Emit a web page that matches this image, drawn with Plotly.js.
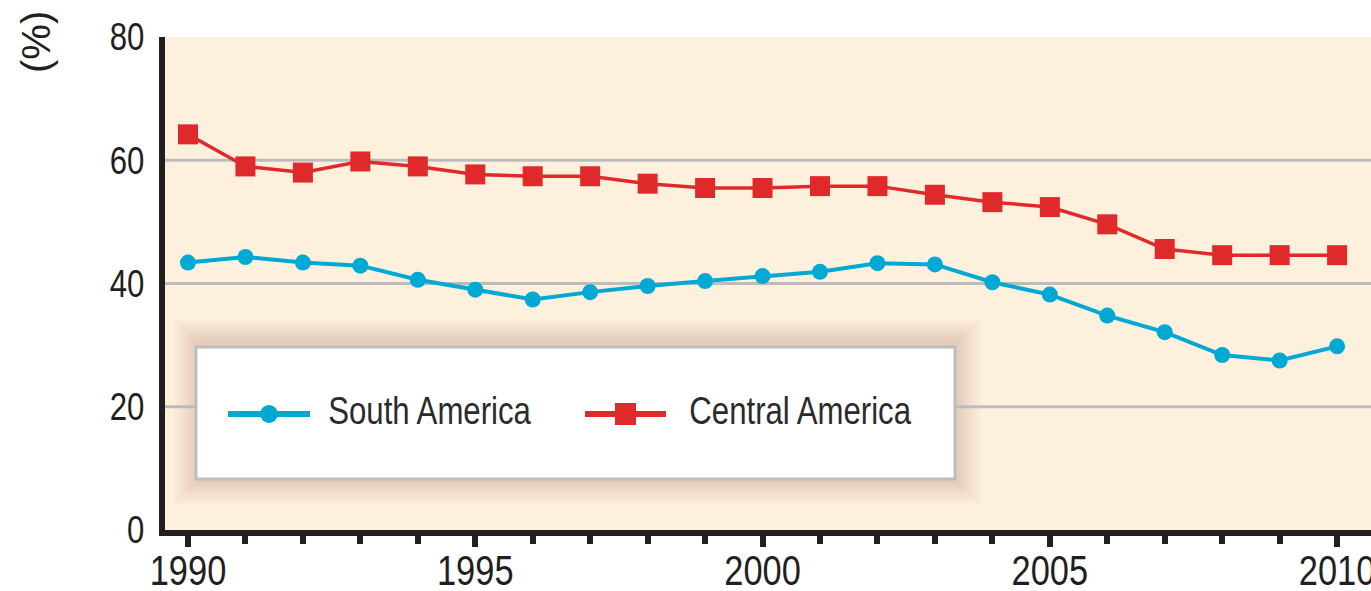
<!DOCTYPE html>
<html>
<head>
<meta charset="utf-8">
<script src="https://cdn.plot.ly/plotly-3.0.1.min.js"></script>
<style>html,body{margin:0;padding:0;background:#fff;}#chart{width:1371px;height:591px;}</style>
</head>
<body>
<div id="chart"></div>
<script>
// ---- data ----
const years = [1990,1991,1992,1993,1994,1995,1996,1997,1998,1999,2000,2001,2002,2003,2004,2005,2006,2007,2008,2009,2010];
const southAmerica = [43.4,44.3,43.4,42.9,40.6,39.0,37.4,38.6,39.6,40.4,41.2,41.9,43.3,43.1,40.2,38.2,34.8,32.1,28.4,27.5,29.8];
const centralAmerica = [64.2,59.0,58.0,59.8,59.0,57.7,57.4,57.4,56.2,55.5,55.5,55.8,55.8,54.4,53.2,52.4,49.6,45.6,44.6,44.6,44.6];
const seriesNames = ["South America","Central America"];
const yTicks = [0,20,40,60,80];
const gridValues = [20,40,60];
const yAxisLabel = "(%)";

// ---- styling / layout geometry ----
const BLUE = "#00A9D3", RED = "#E0292A", INK = "#231F20", GRID = "#BCBCBF";
const W = 1371, H = 591;
const M = {l:165, r:0, t:37, b:61};
const plotW = W - M.l - M.r, plotH = H - M.t - M.b;
const px = x => (x - M.l) / plotW;          // pixel -> paper x
const py = y => (H - M.b - y) / plotH;      // pixel -> paper y
const NARROW = 0.82;                         // horizontal condensing of text

const traces = [
  {x: years, y: southAmerica, name: seriesNames[0], type: "scatter", mode: "lines+markers",
   line: {color: BLUE, width: 4}, marker: {symbol: "circle", size: 16, color: BLUE}},
  {x: years, y: centralAmerica, name: seriesNames[1], type: "scatter", mode: "lines+markers",
   line: {color: RED, width: 3.5}, marker: {symbol: "square", size: 20, color: RED}}
];

const shapes = [];
// soft shadow around legend box
for (let i = 12; i >= 1; i--) {
  const g = i * 2;
  shapes.push({type: "rect", xref: "paper", yref: "paper", layer: "below",
    x0: px(197 - g), x1: px(957 + g), y0: py(481 + g), y1: py(345 - g - 3),
    fillcolor: "rgba(120,95,55,0.016)", line: {width: 0}});
}
// gridlines
gridValues.forEach(v => shapes.push({type: "line", xref: "paper", yref: "y", layer: "below",
  x0: 0, x1: 1, y0: v, y1: v, line: {color: GRID, width: 3}}));
// legend box
shapes.push({type: "rect", xref: "paper", yref: "paper", layer: "above",
  x0: px(196), x1: px(955), y0: py(479), y1: py(347),
  fillcolor: "#FFFFFF", line: {color: "#BDBDC1", width: 3}});
// legend symbols
shapes.push({type: "line", xref: "paper", yref: "paper", layer: "above",
  x0: px(228), x1: px(310), y0: py(414), y1: py(414), line: {color: BLUE, width: 6}});
shapes.push({type: "circle", xref: "paper", yref: "paper", layer: "above",
  x0: px(260), x1: px(278), y0: py(423), y1: py(405), fillcolor: BLUE, line: {width: 0}});
shapes.push({type: "line", xref: "paper", yref: "paper", layer: "above",
  x0: px(585), x1: px(666), y0: py(414), y1: py(414), line: {color: RED, width: 6}});
shapes.push({type: "rect", xref: "paper", yref: "paper", layer: "above",
  x0: px(615), x1: px(636), y0: py(425), y1: py(403), fillcolor: RED, line: {width: 0}});

const legendFont = {family: "Liberation Sans, Arial, sans-serif", size: 38, color: "#2B2B2B"};
const annotations = [
  {xref: "paper", yref: "paper", x: px(430), y: py(411), xanchor: "center", yanchor: "middle",
   text: seriesNames[0], showarrow: false, font: legendFont},
  {xref: "paper", yref: "paper", x: px(800), y: py(411), xanchor: "center", yanchor: "middle",
   text: seriesNames[1], showarrow: false, font: legendFont},
  {xref: "paper", yref: "paper", x: px(36), y: py(42), xanchor: "center", yanchor: "middle",
   text: yAxisLabel, textangle: -90, showarrow: false,
   font: {family: "Liberation Sans, Arial, sans-serif", size: 40, color: INK}}
];

const layout = {
  width: W, height: H,
  margin: M,
  paper_bgcolor: "#FFFFFF",
  plot_bgcolor: "#FDF1DE",
  showlegend: false,
  xaxis: {
    range: [1989.6, 2010.59], tick0: 1990, dtick: 5,
    ticks: "outside", ticklen: 11, tickwidth: 6, tickcolor: INK,
    minor: {dtick: 1, ticks: "outside", ticklen: 8, tickwidth: 6, tickcolor: INK, showgrid: false},
    showline: true, linewidth: 6, linecolor: INK,
    showgrid: false, zeroline: false,
    ticklabelstandoff: -12,
    ticklabeloverflow: "allow",
    tickfont: {family: "Liberation Sans, Arial, sans-serif", size: 42, color: INK}
  },
  yaxis: {
    range: [0, 80], tickvals: yTicks, ticks: "",
    showline: true, linewidth: 6, linecolor: INK,
    showgrid: false, zeroline: false,
    ticklabelstandoff: 7,
    tickfont: {family: "Liberation Sans, Arial, sans-serif", size: 38, color: INK}
  },
  shapes: shapes,
  annotations: annotations
};

Plotly.newPlot("chart", traces, layout, {staticPlot: true, displayModeBar: false}).then(gd => {
  // condense tick labels and legend texts (narrow typeface look)
  const nodes = gd.querySelectorAll(".xtick text, .ytick text, .annotation");
  nodes.forEach(n => {
    const texts = n.tagName.toLowerCase() === "text" ? [n] : Array.from(n.querySelectorAll("text.annotation-text"));
    texts.forEach(t => {
      if (t.textContent === yAxisLabel) return;
      const len = t.getComputedTextLength();
      t.setAttribute("lengthAdjust", "spacingAndGlyphs");
      t.setAttribute("textLength", (len * NARROW).toFixed(1));
    });
  });
});
</script>
</body>
</html>
